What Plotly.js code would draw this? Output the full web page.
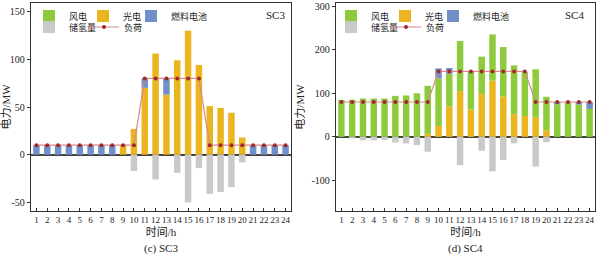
<!DOCTYPE html>
<html>
<head>
<meta charset="utf-8">
<script src="https://cdn.plot.ly/plotly-3.0.1.min.js"></script>
<style>html,body{margin:0;padding:0;background:#fff;}#chart{width:600px;height:257px;}</style>
</head>
<body>
<div id="chart"></div>
<script>
// ---- data ----
const hours = [1,2,3,4,5,6,7,8,9,10,11,12,13,14,15,16,17,18,19,20,21,22,23,24];
const hourLabels = ['1','2','3','4','5','6','7','8','9','10','11','12','13','14','15','16','17','18','19','20','21','22','23','24'];

// SC3
const sc3Wind = [0,0,0,0,0,0,0,0,0,0,0,0,0,0,0,0,0,0,0,0,0,0,0,0];
const sc3PV   = [0,0,0,0,0,0,0,0,10,27,70,106,63,99,130,94,51,49,44,18,0,0,0,0];
const sc3FC   = [10,10,10,10,10,10,10,10,0,0,10,0,17,0,0,0,0,0,0,0,10,10,10,10];
const sc3H2   = [0,0,0,0,0,0,0,0,0,-17,0,-26,0,-19,-50,-14,-41,-39,-34,-8,0,0,0,0];
const sc3Load = [10,10,10,10,10,10,10,10,10,10,80,80,80,80,80,80,10,10,10,10,10,10,10,10];

// SC4
const sc4Wind = [85,85,88,88,88,94,95,100,110,109,75,115,87,86,106,113,112,101,110,77,75,79,74,64];
const sc4PV   = [0,0,0,0,0,0,0,0,7,25,70,105,63,98,129,93,52,48,45,15,0,0,0,0];
const sc4FC   = [0,0,0,0,0,0,0,0,0,23,13,0,0,0,0,0,0,0,0,0,5,1,6,16];
const sc4H2   = [0,-4,-8,-8,-7,-13,-15,-19,-34,0,0,-65,0,-32,-79,-53,-15,0,-68,-12,0,0,0,0];
const sc4Load = [80,80,80,80,80,80,80,80,80,150,150,150,150,150,150,150,150,150,80,80,80,80,80,80];

const sc3Ticks = [-50,0,50,100,150];
const sc3TickText = ['-50','0','50','100','150'];
const sc4Ticks = [-100,0,100,200,300];
const sc4TickText = ['-100','0','100','200','300'];

const names = {wind:'风电', pv:'光电', fc:'燃料电池', h2:'储氢量', load:'负荷'};

// ---- styles ----
const C = {wind:'#8DCB3D', pv:'#EBB51F', fc:'#7190C9', h2:'#C9C9C9', line:'#D58A8C', mk:'#A3262B'};
const FONT = 'Liberation Serif, Noto Sans CJK SC, serif';
const BW = 0.6;

function panel(xa, ya, wind, pv, fc, h2, load, lg1, lg2) {
  const bar = (y, name, color, lg, rank, lw) => ({
    type:'bar', x:hours, y:y, name:name, xaxis:xa, yaxis:ya, width:BW,
    marker:{color:color, line:{width:0}}, legend:lg, legendrank:rank, legendwidth:lw
  });
  return [
    bar(pv, names.pv, C.pv, lg1, 2, 3),
    bar(wind, names.wind, C.wind, lg1, 1, 9),
    bar(fc, names.fc, C.fc, lg1, 3, 40),
    bar(h2, names.h2, C.h2, lg2, 1, 10),
    {type:'scatter', mode:'lines+markers', x:hours, y:load, name:names.load, xaxis:xa, yaxis:ya,
     line:{color:C.line, width:1.2}, marker:{color:C.mk, size:4}, legend:lg2, legendrank:2, legendwidth:30}
  ];
}

const data = [].concat(
  panel('x','y', sc3Wind, sc3PV, sc3FC, sc3H2, sc3Load, 'legend', 'legend2'),
  panel('x2','y2', sc4Wind, sc4PV, sc4FC, sc4H2, sc4Load, 'legend3', 'legend4')
);

const W = 600, H = 257;
const yDom = [1 - 211/H, 1 - 3/H];
const LEFT0 = 31;

function xaxis(dom, anchor) {
  return {
    domain: dom, anchor: anchor, range:[0.5, 24.5],
    tickvals: hours, ticktext: hourLabels, tickangle:0, ticks:'inside', ticklen:3, tickcolor:'#333',
    showline:true, mirror:true, linecolor:'#333', linewidth:1.2, showgrid:false, zeroline:false,
    tickfont:{family:FONT, size:9, color:'#222'},
    title:{text:'时间/h', font:{family:FONT, size:11, color:'#222'}, standoff:4},
    automargin:false, fixedrange:true
  };
}
function yaxis(range, tv, tt, anchor) {
  return {
    domain: yDom, anchor: anchor, range: range,
    tickvals: tv, ticktext: tt, ticks:'outside', ticklen:3, tickcolor:'#333',
    showline:true, mirror:true, linecolor:'#333', linewidth:1.2, showgrid:false,
    zeroline:true, zerolinecolor:'#444', zerolinewidth:1.6,
    tickfont:{family:FONT, size:10, color:'#222'}, ticklabeloverflow:'allow',
    title:{text:'电力/MW', font:{family:FONT, size:11, color:'#222'}, standoff:4},
    automargin:false, fixedrange:true
  };
}
function legendAt(px, py) {
  return {
    x: px/W, y: 1 - py/H, xanchor:'left', yanchor:'middle', orientation:'h',
    bgcolor:'rgba(255,255,255,0)', borderwidth:0,
    font:{family:FONT, size:9, color:'#222'}, traceorder:'normal', itemclick:false, itemdoubleclick:false
  };
}

const annotations = [
  {text:'SC3', xref:'paper', yref:'paper', x:287/W, y:1-15/H, xanchor:'right', yanchor:'middle', showarrow:false, font:{family:FONT, size:11, color:'#222'}},
  {text:'SC4', xref:'paper', yref:'paper', x:586/W, y:1-15/H, xanchor:'right', yanchor:'middle', showarrow:false, font:{family:FONT, size:11, color:'#222'}},
  {text:'(c) SC3', xref:'paper', yref:'paper', x:161/W, y:1-248/H, xanchor:'center', yanchor:'middle', showarrow:false, font:{family:FONT, size:11, color:'#222'}},
  {text:'(d) SC4', xref:'paper', yref:'paper', x:466/W, y:1-248/H, xanchor:'center', yanchor:'middle', showarrow:false, font:{family:FONT, size:11, color:'#222'}}
];

const layout = {
  width: W, height: H, margin:{l:0, r:0, t:0, b:0},
  paper_bgcolor:'#fff', plot_bgcolor:'#fff',
  barmode:'relative', bargap:0.4,
  font:{family:FONT, size:10, color:'#222'},
  xaxis: xaxis([LEFT0/W, 291/W], 'y'),
  yaxis: yaxis([-59, 159], sc3Ticks, sc3TickText, 'x'),
  xaxis2: xaxis([336/W, 595/W], 'y2'),
  yaxis2: yaxis([-170, 307], sc4Ticks, sc4TickText, 'x2'),
  legend: legendAt(29, 16),
  legend2: legendAt(29, 27),
  legend3: legendAt(331, 16),
  legend4: legendAt(331, 27),
  annotations: annotations
};

Plotly.newPlot('chart', data, layout, {staticPlot:true, displayModeBar:false}).then(gd => {
  // If any tick label of the left y axis did not get drawn, put it back as text at its value.
  const shown = Array.from(gd.querySelectorAll('.ytick text')).filter(t => {
    const b = t.getBoundingClientRect();
    return t.getAttribute('display') !== 'none' && b.width > 0;
  }).map(t => t.textContent);
  const extra = [];
  sc3Ticks.forEach((v, i) => {
    if (shown.indexOf(sc3TickText[i]) < 0) {
      extra.push({text: sc3TickText[i], xref:'paper', yref:'y', x:(LEFT0 - 4)/W, y:v,
        xanchor:'right', yanchor:'middle', showarrow:false, font:{family:FONT, size:10, color:'#222'}});
    }
  });
  if (extra.length) Plotly.relayout(gd, {annotations: annotations.concat(extra)});
});
</script>
</body>
</html>
